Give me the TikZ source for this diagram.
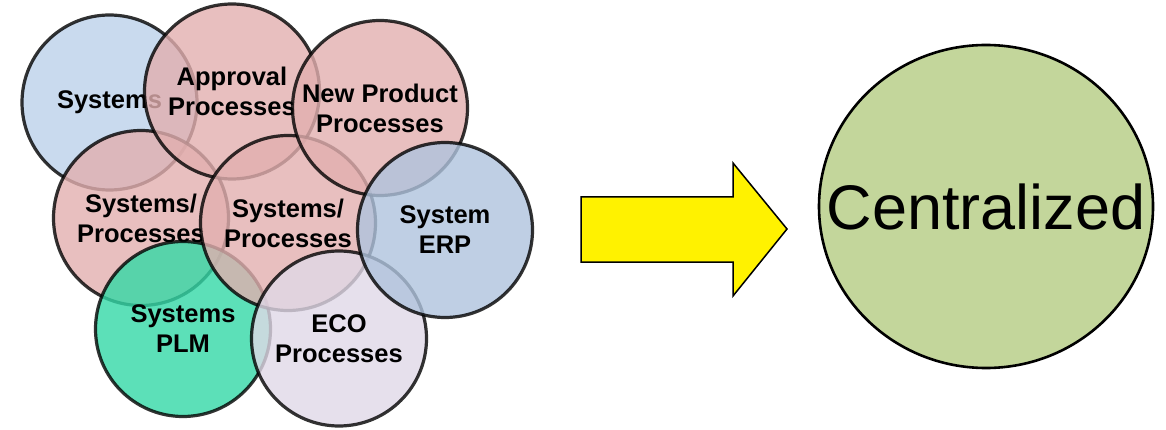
\documentclass[tikz,border=0pt]{standalone}
\usepackage{fontspec}
\setmainfont{Liberation Sans}
\usepackage{tikz}
\definecolor{sysblue}{HTML}{BCD1EA}
\definecolor{procpink}{HTML}{E2AFAF}
\definecolor{erpblue}{HTML}{AFC3DD}
\definecolor{plmgreen}{HTML}{33D8A6}
\definecolor{ecolilac}{HTML}{E0D8E7}
\definecolor{centgreen}{HTML}{C3D69B}

\begin{document}
\begin{tikzpicture}[x=1pt,y=-1pt,
    bubble/.style={circle,draw=black,line width=3.2pt,minimum size=175pt,inner sep=0pt,
      opacity=0.8,text opacity=1,align=center,font=\fontsize{25.5}{30}\selectfont\bfseries}]
      \useasboundingbox (0,0) rectangle (1166,430);

      \node [bubble,fill=sysblue] (1) at (109.5,102.5) {Systems};
      \node [bubble,fill=procpink] (2) at (141,218) {Systems/\\Processes};
      \node [bubble,fill=procpink] (3) at (232,91.5) {Approval\\Processes};
      \node [bubble,fill=plmgreen] (4) at (183,329) {Systems\\PLM};
      \node [bubble,fill=procpink] (5) at (288,223) {Systems/\\Processes};
      \node [bubble,fill=procpink] (6) at (380,108) {New Product\\Processes};
      \node [bubble,fill=ecolilac] (7) at (339,338.5) {ECO\\Processes};
      \node [bubble,fill=erpblue] (8) at (445,230) {System\\ERP};

      \draw[fill=yellow,line width=1.5pt] (581,197) -- (733,197) -- (733,163) -- (787,229)
        -- (733,296) -- (733,262) -- (581,262) -- cycle;

      \draw[fill=centgreen,line width=2.6pt] (986,206.5) ellipse [x radius=167,y radius=161.5];
      \node [font=\fontsize{63}{70}\selectfont] (c) at (986,207) {Centralized};
    \end{tikzpicture}
\end{document}
